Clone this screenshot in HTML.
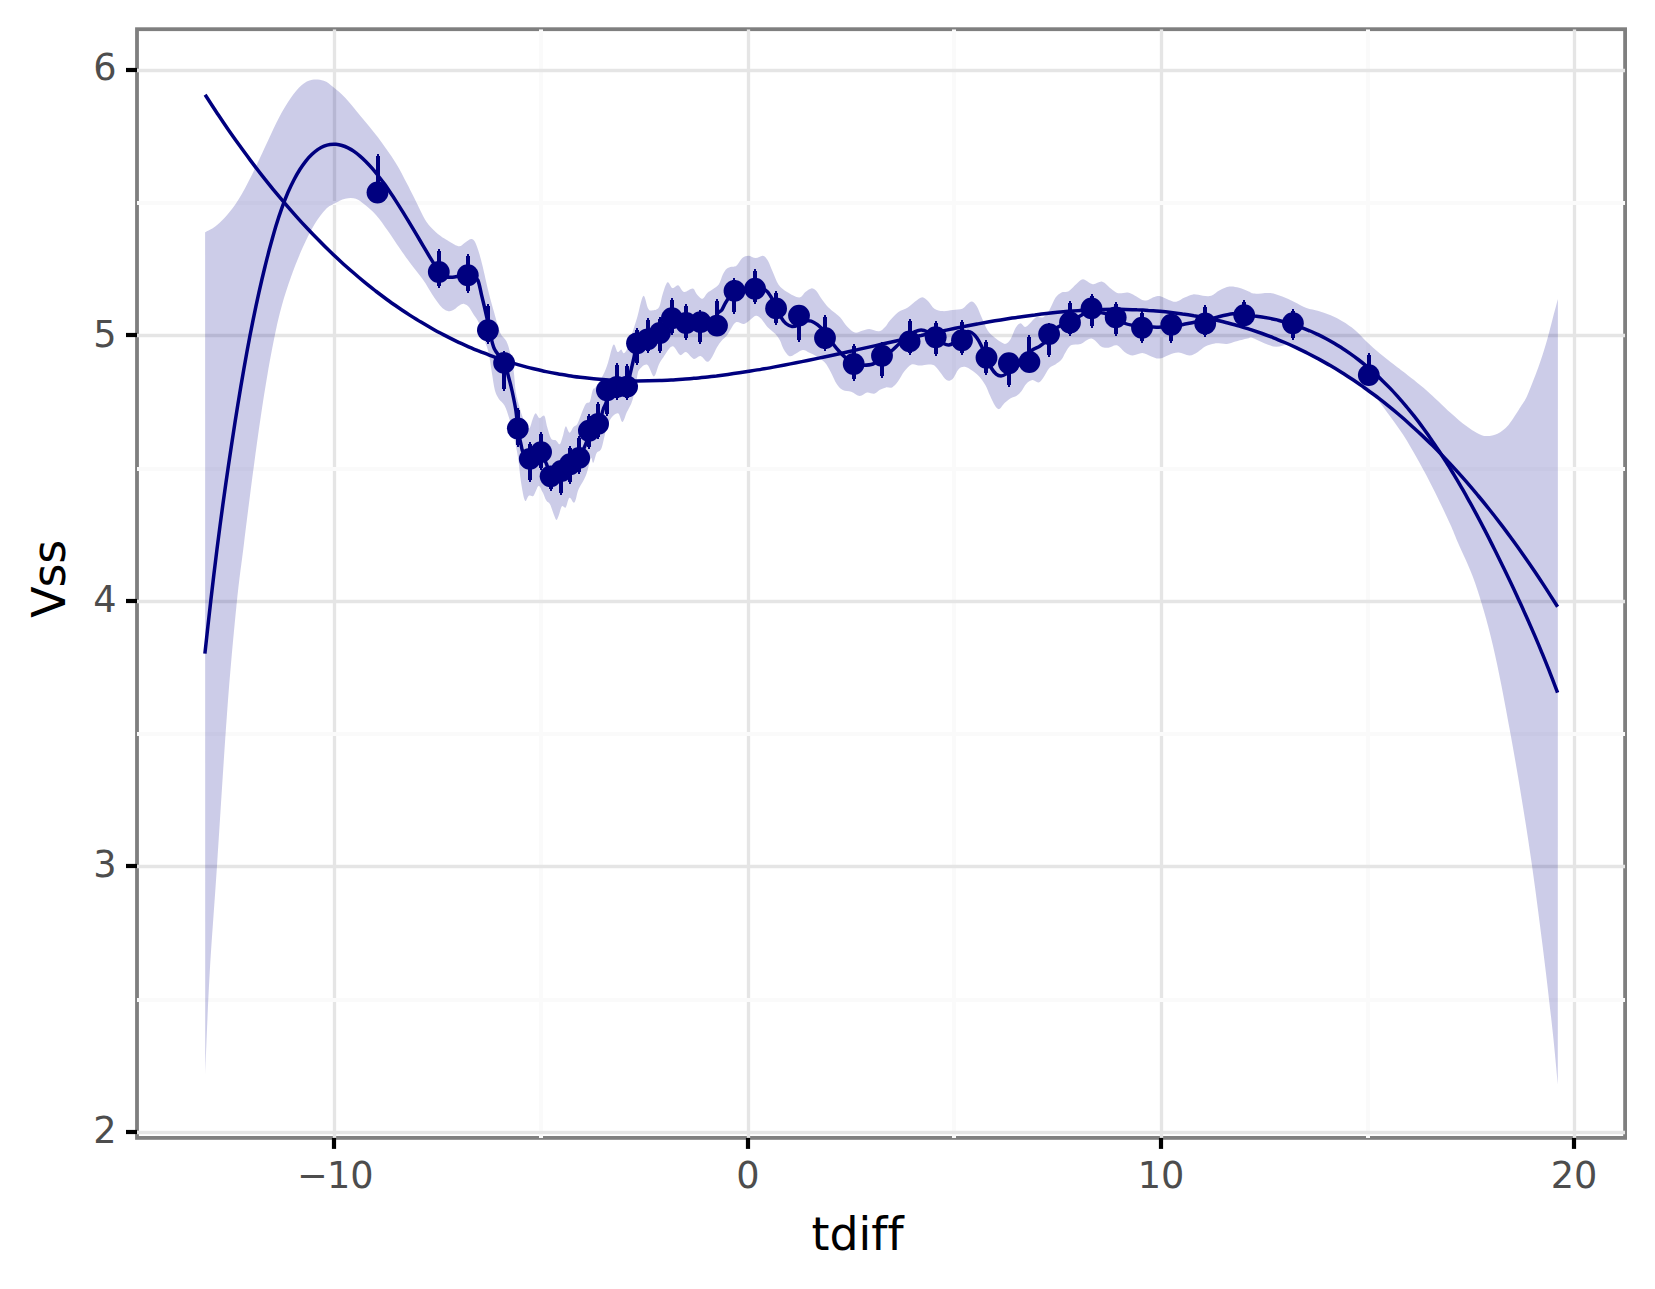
<!DOCTYPE html>
<html><head><meta charset="utf-8"><title>plot</title>
<style>
html,body{margin:0;padding:0;background:#fff;}
body{width:1655px;height:1289px;overflow:hidden;}
svg{display:block;}
text{font-family:"DejaVu Sans","Liberation Sans",sans-serif;font-variant-ligatures:none;font-feature-settings:"liga" 0,"clig" 0;}
.tk{font-size:36.67px;fill:#4d4d4d;}
.ti{font-size:45.83px;fill:#000;}
</style></head><body>
<svg width="1655" height="1289" viewBox="0 0 1655 1289">
<rect x="0" y="0" width="1655" height="1289" fill="#fff"/>
<defs><clipPath id="cp"><rect x="137.0" y="29.2" width="1488.1" height="1108.7"/></clipPath></defs>
<rect x="137.0" y="29.2" width="1488.1" height="1108.7" fill="none" stroke="#7f7f7f" stroke-width="3.8"/>
<g clip-path="url(#cp)">
<line x1="334.5" x2="334.5" y1="29.2" y2="1137.9" stroke="#e5e5e5" stroke-width="3.3"/>
<line x1="748.5" x2="748.5" y1="29.2" y2="1137.9" stroke="#e5e5e5" stroke-width="3.3"/>
<line x1="1161.5" x2="1161.5" y1="29.2" y2="1137.9" stroke="#e5e5e5" stroke-width="3.3"/>
<line x1="1574.5" x2="1574.5" y1="29.2" y2="1137.9" stroke="#e5e5e5" stroke-width="3.3"/>
<line x1="541" x2="541" y1="29.2" y2="1137.9" stroke="#fafafa" stroke-width="4"/>
<line x1="954" x2="954" y1="29.2" y2="1137.9" stroke="#fafafa" stroke-width="4"/>
<line x1="1368" x2="1368" y1="29.2" y2="1137.9" stroke="#fafafa" stroke-width="4"/>
<line y1="70.5" y2="70.5" x1="137.0" x2="1625.1" stroke="#e5e5e5" stroke-width="3.3"/>
<line y1="335.5" y2="335.5" x1="137.0" x2="1625.1" stroke="#e5e5e5" stroke-width="3.3"/>
<line y1="601.5" y2="601.5" x1="137.0" x2="1625.1" stroke="#e5e5e5" stroke-width="3.3"/>
<line y1="866.5" y2="866.5" x1="137.0" x2="1625.1" stroke="#e5e5e5" stroke-width="3.3"/>
<line y1="1132.5" y2="1132.5" x1="137.0" x2="1625.1" stroke="#e5e5e5" stroke-width="3.3"/>
<line y1="203" y2="203" x1="137.0" x2="1625.1" stroke="#fafafa" stroke-width="4"/>
<line y1="469" y2="469" x1="137.0" x2="1625.1" stroke="#fafafa" stroke-width="4"/>
<line y1="734" y2="734" x1="137.0" x2="1625.1" stroke="#fafafa" stroke-width="4"/>
<line y1="1000" y2="1000" x1="137.0" x2="1625.1" stroke="#fafafa" stroke-width="4"/>
<path d="M205.1,232.2C206.8,231.2 211.6,229.2 215.2,226.4C218.8,223.6 223.0,219.7 226.9,215.2C230.8,210.7 234.3,206.4 238.5,199.6C242.7,192.8 247.2,184.1 252.1,174.4C256.9,164.7 263.1,151.0 267.6,141.5C272.1,132.0 275.3,124.5 279.2,117.2C283.1,109.9 287.2,103.1 290.9,97.8C294.6,92.5 297.9,88.2 301.5,85.2C305.1,82.2 308.5,80.5 312.2,79.8C315.9,79.1 320.2,79.6 323.8,80.8C327.4,82.0 329.9,84.4 333.5,87.2C337.1,90.0 340.7,93.0 345.2,97.8C349.7,102.6 355.2,109.6 360.7,116.2C366.2,122.8 372.3,129.8 378.1,137.6C383.9,145.4 390.8,155.1 395.6,162.8C400.5,170.6 403.3,176.7 407.2,184.1C411.1,191.5 415.7,201.1 418.9,207.4C422.1,213.7 424.0,218.0 426.6,221.9C429.2,225.8 432.2,228.4 434.4,230.7C436.6,233.0 438.1,234.0 440.0,235.5C441.9,237.0 442.9,237.7 446.0,239.5C449.1,241.3 455.4,245.6 458.4,246.2C461.4,246.8 462.1,244.5 464.2,243.3C466.3,242.1 469.2,239.3 471.0,239.1C472.8,238.8 473.6,239.7 474.9,241.8C476.2,244.0 477.5,247.9 478.8,252.0C480.1,256.1 481.1,260.0 482.7,266.6C484.3,273.2 486.6,284.1 488.5,291.8C490.4,299.6 492.4,306.3 494.3,313.1C496.2,319.9 498.1,327.8 500.1,332.5C502.1,337.2 504.7,337.9 506.3,341.1C507.9,344.4 508.7,347.1 509.9,352.0C511.1,356.9 512.6,363.5 513.6,370.2C514.6,376.9 514.8,385.9 515.8,392.0C516.8,398.1 518.3,402.7 519.5,407.0C520.7,411.3 521.5,414.4 523.0,418.0C524.5,421.6 527.2,428.6 528.8,428.8C530.4,429.0 531.6,421.7 532.7,419.1C533.8,416.5 534.5,413.5 535.6,413.3C536.7,413.1 538.0,417.7 539.5,418.1C541.0,418.5 543.0,414.2 544.3,415.7C545.6,417.2 546.1,423.1 547.2,426.9C548.3,430.7 549.6,436.2 551.1,438.5C552.6,440.8 554.5,439.4 556.0,440.4C557.5,441.4 558.7,444.9 559.8,444.3C560.9,443.7 561.7,439.6 562.7,436.6C563.7,433.6 564.6,427.0 565.7,426.4C566.8,425.8 568.2,432.6 569.5,432.7C570.8,432.8 572.1,428.4 573.4,426.9C574.7,425.4 576.0,426.0 577.3,423.9C578.6,421.8 579.8,417.6 581.2,414.2C582.7,410.8 584.5,405.7 586.0,403.6C587.5,401.5 588.8,403.9 589.9,401.6C591.0,399.3 591.8,392.4 592.8,390.0C593.8,387.6 594.1,389.6 595.8,387.1C597.5,384.6 601.1,379.0 603.1,375.0C605.1,371.0 606.2,367.9 607.9,362.9C609.6,357.9 611.8,346.6 613.4,344.8C615.0,343.0 616.3,351.2 617.6,352.0C618.9,352.8 620.2,349.4 621.2,349.6C622.2,349.8 622.7,353.4 623.7,353.2C624.7,353.0 625.8,351.8 627.3,348.4C628.8,344.9 630.7,337.7 632.4,332.5C634.1,327.3 635.5,323.1 637.3,317.0C639.1,310.9 641.5,297.3 643.3,295.9C645.1,294.5 646.6,306.1 648.1,308.5C649.6,310.9 650.2,310.6 652.0,310.4C653.8,310.2 657.0,310.2 658.8,307.5C660.6,304.8 661.2,298.1 662.7,293.9C664.2,289.7 665.9,283.3 667.5,282.3C669.1,281.3 670.6,287.6 672.4,288.1C674.2,288.6 676.3,284.6 678.2,285.2C680.1,285.8 681.6,291.4 684.0,292.0C686.4,292.6 690.6,288.3 692.7,288.6C694.8,288.9 695.0,292.2 696.6,293.9C698.2,295.6 700.6,298.9 702.4,298.8C704.2,298.7 705.5,294.6 707.3,293.0C709.1,291.4 711.2,290.6 713.1,289.1C715.0,287.6 717.3,286.6 718.9,284.2C720.5,281.8 721.5,277.1 722.8,274.5C724.1,271.9 725.2,270.0 726.7,268.7C728.2,267.4 729.9,267.3 731.5,266.8C733.1,266.3 734.6,267.2 736.4,265.8C738.2,264.4 740.3,259.8 742.3,258.1C744.3,256.4 746.2,255.7 748.4,255.7C750.6,255.7 753.3,258.1 755.7,258.1C758.1,258.1 760.9,255.3 762.9,255.7C764.9,256.1 766.2,258.0 767.8,260.6C769.4,263.2 770.8,267.5 772.6,271.5C774.4,275.5 776.2,281.4 778.6,284.8C781.0,288.2 783.7,289.9 787.1,292.0C790.5,294.1 796.2,297.5 799.2,297.5C802.2,297.5 803.3,293.5 805.3,292.0C807.3,290.5 809.5,288.6 811.3,288.4C813.1,288.2 814.6,289.2 816.2,290.8C817.8,292.4 819.2,295.6 821.0,298.1C822.8,300.6 825.0,303.7 827.0,305.9C829.0,308.1 830.9,309.5 833.1,311.4C835.3,313.3 837.9,314.8 840.3,317.4C842.7,320.0 845.2,324.6 847.6,327.1C850.0,329.6 852.5,332.0 854.9,332.6C857.3,333.2 859.7,331.3 862.1,330.7C864.5,330.1 866.6,328.8 869.4,328.9C872.2,329.0 876.5,331.6 879.1,331.3C881.7,331.0 883.3,328.9 885.1,327.1C886.9,325.4 887.5,323.3 889.7,320.8C891.9,318.3 895.1,314.5 898.1,312.3C901.1,310.1 905.0,309.3 907.8,307.5C910.6,305.7 912.7,303.2 915.1,301.5C917.5,299.8 920.1,297.2 922.3,297.2C924.5,297.2 926.4,299.6 928.4,301.5C930.4,303.4 932.0,307.1 934.4,308.7C936.8,310.3 939.9,310.9 942.9,311.1C945.9,311.3 949.4,310.3 952.6,309.9C955.8,309.5 959.9,309.6 962.3,308.7C964.7,307.8 965.5,305.7 967.1,304.5C968.7,303.3 970.4,301.2 972.0,301.5C973.6,301.8 975.2,303.7 976.8,306.3C978.4,308.9 979.8,313.2 981.6,317.2C983.4,321.2 985.5,327.1 987.7,330.5C989.9,333.9 992.7,335.9 994.9,337.8C997.1,339.7 999.2,341.0 1001.0,342.0C1002.8,343.0 1004.2,344.3 1005.8,343.8C1007.4,343.3 1009.1,341.6 1010.7,339.0C1012.3,336.4 1013.9,330.7 1015.5,328.1C1017.1,325.5 1018.7,323.4 1020.3,323.2C1021.9,323.0 1023.6,326.9 1025.2,326.9C1026.8,326.9 1028.2,324.8 1030.0,323.2C1031.8,321.6 1033.9,318.2 1036.1,317.2C1038.3,316.2 1041.1,318.4 1043.3,317.2C1045.5,316.0 1047.4,313.1 1049.4,309.9C1051.4,306.7 1053.4,300.7 1055.4,297.8C1057.4,294.9 1059.3,293.5 1061.5,292.4C1063.7,291.3 1066.1,292.7 1068.7,291.2C1071.3,289.7 1074.5,285.6 1076.9,283.6C1079.3,281.6 1080.4,279.2 1083.0,279.3C1085.6,279.4 1089.5,283.8 1092.7,284.2C1095.9,284.6 1099.3,281.0 1102.3,281.7C1105.3,282.4 1108.2,286.5 1110.8,288.4C1113.4,290.3 1115.3,292.5 1118.1,293.2C1120.9,293.9 1125.0,292.2 1127.8,292.6C1130.6,293.0 1132.2,294.4 1135.0,295.7C1137.8,297.0 1141.5,300.3 1144.7,300.5C1147.9,300.7 1151.8,297.6 1154.4,296.9C1157.0,296.2 1158.0,295.8 1160.4,296.3C1162.8,296.8 1166.3,299.0 1168.9,299.9C1171.5,300.8 1173.6,302.1 1176.2,301.7C1178.8,301.3 1181.8,298.7 1184.6,297.5C1187.4,296.3 1190.1,294.7 1193.1,294.4C1196.1,294.1 1199.8,295.5 1202.8,295.7C1205.8,295.9 1208.4,296.6 1211.2,295.7C1214.0,294.8 1216.7,291.7 1219.7,290.2C1222.7,288.7 1226.2,287.0 1229.4,286.6C1232.6,286.2 1235.9,287.0 1239.1,287.8C1242.3,288.6 1246.1,290.4 1248.7,291.4C1251.3,292.4 1250.9,293.3 1254.5,293.6C1258.1,293.9 1265.6,292.5 1270.2,293.0C1274.8,293.5 1278.3,295.1 1282.3,296.6C1286.3,298.1 1290.4,300.1 1294.4,302.0C1298.4,303.9 1302.5,306.6 1306.5,308.1C1310.5,309.6 1314.6,309.9 1318.6,311.1C1322.6,312.3 1326.7,313.6 1330.7,315.3C1334.7,317.0 1338.8,319.0 1342.8,321.4C1346.8,323.8 1350.9,326.5 1354.9,329.9C1358.9,333.3 1362.9,338.1 1367.0,342.0C1371.1,345.9 1375.3,349.7 1379.3,353.1C1383.3,356.5 1387.2,359.4 1391.2,362.5C1395.2,365.6 1397.1,366.9 1403.0,371.5C1408.9,376.1 1418.7,383.6 1426.6,390.4C1434.5,397.2 1443.6,406.5 1450.2,412.4C1456.8,418.3 1461.5,422.4 1466.0,425.8C1470.5,429.2 1473.6,431.2 1477.0,432.9C1480.4,434.6 1483.1,436.0 1486.5,436.1C1489.9,436.2 1493.8,435.6 1497.5,433.7C1501.2,431.8 1504.6,429.6 1508.5,425.0C1512.4,420.4 1517.9,411.1 1521.1,406.1C1524.3,401.1 1525.0,400.6 1527.5,395.0C1530.0,389.4 1533.7,379.7 1536.3,372.8C1538.9,365.9 1541.1,359.4 1543.0,353.4C1544.9,347.4 1546.3,342.7 1547.9,336.9C1549.5,331.1 1551.0,324.8 1552.7,318.5C1554.4,312.2 1557.0,302.2 1557.9,298.9L1557.8,1084.4C1556.9,1075.2 1555.1,1053.9 1552.4,1029.2C1549.7,1004.5 1545.5,968.1 1541.4,936.4C1537.4,904.7 1533.3,873.1 1528.1,839.2C1522.9,805.3 1516.3,765.6 1510.4,733.2C1504.5,700.8 1498.7,669.9 1492.8,644.9C1486.9,619.9 1480.9,600.0 1475.1,583.0C1469.3,566.0 1462.2,552.8 1458.1,543.0C1453.9,533.2 1454.1,532.9 1450.2,524.3C1446.3,515.7 1439.8,501.7 1434.5,491.2C1429.2,480.7 1424.0,470.8 1418.7,461.3C1413.5,451.9 1408.2,442.6 1403.0,434.5C1397.8,426.4 1392.0,418.9 1387.2,412.4C1382.4,405.9 1377.8,399.2 1374.0,395.2C1370.2,391.2 1367.6,390.5 1364.4,388.2C1361.3,385.9 1358.1,383.7 1354.9,381.6C1351.7,379.4 1348.5,377.3 1345.3,375.3C1342.1,373.2 1339.0,371.3 1335.8,369.3C1332.6,367.4 1329.4,365.5 1326.2,363.7C1323.0,361.9 1319.9,360.1 1316.7,358.4C1313.5,356.7 1310.3,355.0 1307.1,353.4C1303.9,351.8 1300.7,350.3 1297.6,348.8C1294.4,347.3 1291.5,344.7 1288.0,344.4C1284.5,344.1 1280.3,347.0 1276.3,346.8C1272.3,346.6 1268.2,344.7 1264.2,343.2C1260.2,341.7 1254.9,338.5 1252.1,337.7C1249.3,336.9 1250.3,338.0 1247.5,338.6C1244.7,339.2 1238.8,340.7 1235.4,341.6C1232.0,342.5 1230.4,343.7 1227.0,344.0C1223.6,344.3 1218.5,343.0 1214.9,343.4C1211.3,343.8 1208.0,345.1 1205.2,346.5C1202.4,347.9 1200.5,350.4 1197.9,351.9C1195.3,353.4 1192.7,355.4 1189.5,355.5C1186.3,355.6 1182.0,352.6 1178.6,352.5C1175.2,352.4 1172.1,353.9 1168.9,354.9C1165.7,355.9 1162.2,358.4 1159.2,358.6C1156.2,358.8 1153.5,357.1 1150.7,356.2C1147.9,355.3 1145.3,353.2 1142.3,353.1C1139.3,353.0 1135.4,355.6 1132.6,355.5C1129.8,355.4 1127.9,354.2 1125.3,352.5C1122.7,350.8 1119.7,346.1 1116.9,345.3C1114.1,344.5 1111.0,347.5 1108.4,347.7C1105.8,347.9 1103.9,348.0 1101.1,346.5C1098.3,345.0 1094.9,339.0 1091.5,338.6C1088.1,338.2 1084.0,342.9 1080.6,344.0C1077.2,345.1 1073.4,343.9 1070.9,345.3C1068.4,346.7 1067.1,350.1 1065.5,352.5C1063.9,354.9 1063.2,357.5 1061.5,359.5C1059.8,361.5 1057.4,363.0 1055.4,364.4C1053.4,365.8 1051.4,365.8 1049.4,368.0C1047.4,370.2 1045.1,375.3 1043.3,377.7C1041.5,380.1 1040.3,382.1 1038.5,382.5C1036.7,382.9 1034.5,379.9 1032.5,380.1C1030.5,380.3 1028.2,381.9 1026.4,383.7C1024.6,385.5 1023.2,389.0 1021.6,391.0C1020.0,393.0 1018.5,394.6 1016.7,395.8C1014.9,397.0 1012.7,397.1 1010.7,398.3C1008.7,399.5 1006.5,401.3 1004.6,403.1C1002.7,404.9 1000.8,408.7 999.2,409.1C997.6,409.5 996.4,407.7 994.9,405.5C993.4,403.3 991.7,399.2 990.1,395.8C988.5,392.4 987.1,388.1 985.3,384.9C983.5,381.7 981.4,378.9 979.2,376.5C977.0,374.1 974.4,372.0 972.0,370.4C969.6,368.8 966.9,367.0 964.7,366.8C962.5,366.6 960.6,367.2 958.6,369.2C956.6,371.2 954.6,377.1 952.6,378.9C950.6,380.7 948.5,381.1 946.5,380.1C944.5,379.1 942.5,375.2 940.5,372.8C938.5,370.4 936.4,367.0 934.4,365.6C932.4,364.2 930.8,364.4 928.4,364.4C926.0,364.4 922.7,365.6 919.9,365.6C917.1,365.6 914.1,363.4 911.5,364.4C908.9,365.4 906.4,368.8 904.2,371.6C902.0,374.4 900.1,378.7 898.1,381.3C896.1,383.9 894.1,386.4 892.1,387.4C890.1,388.4 888.0,387.0 886.0,387.4C884.0,387.8 882.0,388.8 880.0,389.8C878.0,390.9 876.4,393.2 874.2,393.7C872.0,394.1 869.4,392.1 867.0,392.5C864.6,392.9 862.3,396.1 859.7,396.0C857.1,395.9 854.0,392.8 851.2,391.8C848.4,390.8 845.2,391.3 842.8,390.0C840.4,388.7 838.7,387.0 836.7,384.0C834.7,381.0 832.7,375.5 830.7,371.9C828.7,368.3 827.0,364.8 824.6,362.2C822.2,359.6 818.8,357.8 816.2,356.2C813.6,354.6 811.1,353.5 808.9,352.5C806.7,351.5 805.0,349.9 802.8,350.1C800.6,350.3 797.8,352.7 795.6,353.7C793.4,354.7 791.5,357.0 789.5,356.2C787.5,355.4 785.1,351.5 783.5,348.9C781.9,346.3 781.4,343.0 780.0,340.5C778.6,338.0 777.3,336.0 775.2,333.7C773.1,331.4 769.8,329.5 767.4,326.9C765.0,324.3 762.5,320.0 760.6,318.2C758.7,316.4 757.6,315.5 755.8,315.8C754.0,316.1 752.0,318.7 750.0,320.1C748.0,321.5 746.4,323.7 744.1,324.0C741.8,324.3 738.5,321.5 736.4,322.1C734.3,322.8 733.1,325.6 731.5,327.9C729.9,330.2 728.3,333.6 726.7,335.7C725.1,337.8 723.4,338.6 721.8,340.5C720.2,342.4 718.6,344.6 717.0,347.3C715.4,350.1 713.7,354.6 712.1,357.0C710.5,359.4 709.2,362.0 707.3,361.8C705.4,361.6 702.8,356.5 700.5,356.0C698.2,355.5 696.1,359.5 693.7,358.9C691.3,358.2 688.3,352.8 686.0,352.1C683.7,351.5 682.4,356.0 680.1,355.0C677.8,354.0 675.1,346.0 672.4,346.3C669.6,346.6 665.9,353.9 663.6,357.0C661.3,360.1 660.4,361.5 658.8,364.7C657.2,367.9 655.8,376.4 653.9,376.4C652.0,376.4 649.6,365.8 647.2,364.7C644.8,363.6 641.1,367.5 639.4,369.6C637.7,371.7 638.1,372.4 637.0,377.4C635.9,382.4 634.3,393.9 632.6,399.7C630.9,405.5 628.5,408.6 626.8,412.3C625.1,416.0 623.9,421.8 622.4,422.0C620.9,422.2 619.9,413.9 618.0,413.3C616.1,412.7 613.1,415.5 611.2,418.1C609.3,420.7 608.0,423.8 606.4,428.8C604.8,433.8 603.1,444.2 601.5,448.2C599.9,452.2 598.1,450.6 596.7,453.0C595.3,455.4 594.3,461.9 593.3,462.7C592.3,463.5 591.9,456.3 590.9,457.9C589.9,459.5 588.3,468.5 587.0,472.4C585.7,476.3 584.6,478.3 583.1,481.2C581.6,484.1 579.8,486.3 578.3,489.9C576.8,493.4 575.9,501.2 574.4,502.5C572.9,503.8 571.0,496.9 569.5,497.7C568.0,498.5 567.0,505.9 565.7,507.4C564.4,508.8 562.9,505.1 561.8,506.4C560.7,507.7 559.8,512.7 558.9,515.0C558.0,517.3 557.3,520.0 556.5,520.0C555.7,520.0 555.1,517.6 554.0,515.0C552.9,512.4 551.4,506.9 550.1,504.5C548.8,502.1 547.6,502.7 546.3,500.6C545.0,498.5 543.7,494.2 542.4,491.8C541.1,489.4 540.0,485.4 538.5,486.0C537.0,486.6 535.2,494.1 533.6,495.7C532.0,497.3 530.2,494.9 528.8,495.7C527.3,496.5 526.2,502.9 524.9,500.6C523.6,498.3 522.1,489.2 521.0,482.1C519.9,475.0 519.2,465.2 518.1,457.9C517.0,450.6 515.7,445.0 514.2,438.5C512.8,432.0 511.0,424.6 509.4,419.1C507.8,413.6 506.3,408.9 504.5,405.5C502.7,402.1 500.3,401.3 498.7,398.7C497.1,396.1 495.9,394.4 494.8,390.0C493.7,385.6 492.9,379.1 491.8,372.6C490.7,366.1 489.7,357.1 488.1,350.8C486.5,344.6 483.7,339.8 482.1,335.1C480.6,330.4 480.2,326.1 478.8,322.8C477.4,319.5 475.5,317.7 473.9,315.1C472.3,312.5 470.7,309.2 469.1,307.3C467.5,305.4 465.8,304.2 464.2,303.9C462.6,303.6 461.0,304.5 459.4,305.4C457.8,306.3 456.1,308.2 454.5,309.2C452.9,310.2 451.3,311.1 449.7,311.2C448.1,311.3 446.4,310.7 444.8,309.7C443.2,308.7 442.1,307.9 440.0,305.4C437.9,302.9 435.3,299.1 432.4,294.7C429.5,290.3 426.6,284.7 422.7,279.2C418.8,273.7 413.1,266.9 409.2,261.7C405.3,256.5 403.1,253.3 399.5,248.1C395.9,242.9 391.7,236.2 387.8,230.7C383.9,225.2 380.1,219.6 376.2,215.2C372.3,210.8 368.0,207.2 364.6,204.5C361.2,201.8 359.0,199.7 355.8,198.7C352.6,197.7 348.8,197.9 345.2,198.7C341.6,199.5 337.7,201.7 334.5,203.5C331.3,205.3 329.2,205.7 325.8,209.3C322.4,212.9 318.0,218.4 314.1,224.9C310.2,231.4 306.4,239.4 302.5,248.1C298.6,256.8 294.3,267.7 290.9,277.2C287.5,286.7 284.6,295.7 282.0,305.0C279.4,314.3 277.7,321.6 275.3,333.0C272.9,344.4 270.0,359.8 267.6,373.7C265.2,387.6 263.1,401.2 260.8,416.4C258.5,431.6 256.1,449.4 254.0,464.9C251.9,480.4 249.9,496.1 248.2,509.5C246.5,522.9 245.8,529.0 243.8,545.0C241.9,561.0 239.3,577.1 236.5,605.2C233.7,633.4 230.2,670.4 227.0,713.9C223.8,757.4 219.9,822.5 217.0,866.0C214.1,909.5 211.6,940.0 209.6,974.8C207.6,1009.6 205.9,1058.1 205.2,1074.8Z" fill="#00008b" fill-opacity="0.2" stroke="none"/>
<path d="M204.9,653.6C205.4,649.0 206.9,635.3 207.9,626.3C208.9,617.3 209.9,608.5 210.9,599.8C211.9,591.1 212.9,582.6 213.9,574.3C214.9,566.0 215.9,557.8 216.9,549.9C217.9,542.0 218.9,534.2 219.9,526.6C220.9,519.0 221.9,511.6 222.9,504.3C223.9,497.0 224.9,490.0 225.9,483.0C226.9,476.0 227.9,469.2 228.9,462.4C229.9,455.6 230.9,449.0 231.9,442.4C232.9,435.8 233.9,429.4 234.9,423.0C235.9,416.6 236.9,410.4 237.9,404.3C238.9,398.2 239.9,392.0 240.9,386.1C241.9,380.2 242.9,374.4 243.9,368.7C244.9,363.0 245.9,357.4 246.9,352.0C247.9,346.6 248.9,341.2 249.9,336.0C250.9,330.8 251.9,325.8 252.9,320.8C253.9,315.9 254.9,311.0 255.9,306.3C256.9,301.6 257.9,297.1 258.9,292.6C259.9,288.1 260.9,283.8 261.9,279.5C262.9,275.2 263.9,271.1 264.9,267.0C265.9,262.9 267.0,258.4 267.9,255.1C268.8,251.8 268.6,251.9 270.0,247.0C271.4,242.1 274.0,232.4 276.0,225.8C278.0,219.2 280.0,213.2 282.0,207.6C284.0,202.0 286.0,197.0 288.0,192.3C290.0,187.7 292.0,183.5 294.0,179.7C296.0,175.9 298.0,172.5 300.0,169.3C302.0,166.2 304.0,163.3 306.0,160.8C308.0,158.3 310.0,156.2 312.0,154.3C314.0,152.4 316.0,150.8 318.0,149.4C320.0,148.1 322.0,147.0 324.0,146.2C326.0,145.4 328.0,144.8 330.0,144.5C332.0,144.2 334.0,144.1 336.0,144.3C338.0,144.5 340.0,144.9 342.0,145.5C344.0,146.1 346.0,146.9 348.0,147.9C350.0,148.9 352.0,150.0 354.0,151.4C356.0,152.8 358.0,154.4 360.0,156.1C362.0,157.8 364.0,159.7 366.0,161.7C368.0,163.7 370.0,165.9 372.0,168.2C374.0,170.5 376.0,173.0 378.0,175.5C380.0,178.0 382.0,180.7 384.0,183.4C386.0,186.2 388.0,189.1 390.0,192.0C392.0,194.9 394.0,198.0 396.0,201.1C398.0,204.2 400.0,207.4 402.0,210.6C404.0,213.8 406.0,217.1 408.0,220.4C410.0,223.7 412.0,227.1 414.0,230.4C416.0,233.8 418.0,237.1 420.0,240.5C422.0,243.9 424.0,247.3 426.0,250.7C428.0,254.1 430.0,257.4 432.0,260.7C434.0,264.0 436.9,268.8 438.0,270.7C439.1,272.6 437.6,271.0 438.8,272.0C440.0,273.0 442.7,275.6 445.0,276.5C447.3,277.4 450.1,277.3 452.6,277.2C455.1,277.1 457.5,276.3 460.0,276.0C462.5,275.7 465.8,275.1 467.8,275.2C469.8,275.3 470.3,275.7 472.0,276.5C473.7,277.3 476.2,276.9 477.8,280.1C479.4,283.3 480.4,290.4 481.7,295.7C483.0,301.0 484.6,307.6 485.6,312.1C486.7,316.7 487.3,319.7 488.0,323.0C488.7,326.3 489.0,327.8 490.0,332.0C491.0,336.2 491.8,343.2 494.2,348.4C496.6,353.5 501.7,358.1 504.1,362.9C506.5,367.7 507.3,372.5 508.7,377.4C510.1,382.2 511.1,386.4 512.3,392.0C513.5,397.6 515.1,405.2 516.0,411.3C516.9,417.4 517.0,423.0 517.8,428.5C518.6,434.0 520.1,440.4 521.0,444.3C521.9,448.2 521.5,449.6 523.0,452.0C524.5,454.4 527.7,458.5 529.8,458.9C531.9,459.3 533.6,455.4 535.5,454.5C537.4,453.6 539.3,451.9 541.1,453.5C542.9,455.1 544.9,460.2 546.5,464.0C548.1,467.8 549.0,474.6 550.6,476.3C552.2,478.1 554.2,475.4 556.0,474.5C557.8,473.6 559.0,472.7 561.3,471.0C563.6,469.3 567.0,466.4 570.0,464.2C573.0,462.0 577.0,460.2 579.2,457.9C581.4,455.5 581.8,453.0 583.1,450.1C584.4,447.2 586.0,443.6 587.0,440.4C588.0,437.2 587.0,433.4 588.9,430.7C590.8,427.9 596.0,426.5 598.1,423.9C600.2,421.3 600.6,417.8 601.5,415.2C602.4,412.6 602.7,410.8 603.5,408.5C604.3,406.2 605.8,404.7 606.4,401.6C607.0,398.6 605.1,392.6 606.9,390.2C608.7,387.8 613.6,387.5 617.0,386.9C620.4,386.3 624.9,388.7 627.1,386.6C629.3,384.5 628.9,379.4 630.0,374.5C631.1,369.6 632.8,362.7 634.0,357.5C635.2,352.3 634.7,346.3 637.0,343.3C639.3,340.3 643.8,341.0 647.6,339.3C651.4,337.6 656.8,335.4 659.9,333.0C663.0,330.6 664.0,327.5 666.0,325.0C668.0,322.5 669.7,319.0 671.9,318.2C674.1,317.4 676.6,319.2 679.0,320.0C681.4,320.8 682.4,322.6 686.0,323.0C689.6,323.4 696.5,322.0 700.5,322.1C704.5,322.2 707.8,323.6 710.0,323.5C712.2,323.4 712.7,323.2 714.0,321.5C715.3,319.8 716.7,314.9 718.0,313.0C719.3,311.1 720.5,311.7 721.8,310.0C723.0,308.3 724.1,305.2 725.5,302.8C726.9,300.4 728.7,297.7 730.2,295.7C731.7,293.7 732.0,292.2 734.5,291.0C737.0,289.8 741.6,288.9 745.0,288.5C748.4,288.1 751.6,288.4 755.0,288.7C758.4,288.9 762.7,288.5 765.4,290.0C768.1,291.5 769.6,294.8 771.4,297.5C773.2,300.2 774.5,302.7 776.1,306.0C777.7,309.3 779.5,314.5 781.1,317.4C782.7,320.3 784.1,322.0 785.9,323.5C787.7,325.0 789.8,326.3 792.0,326.5C794.2,326.7 796.8,325.6 799.0,324.7C801.2,323.8 803.2,321.7 805.3,321.1C807.3,320.5 809.3,320.5 811.3,321.1C813.3,321.7 815.1,322.9 817.4,324.7C819.7,326.5 822.4,328.8 825.0,332.0C827.6,335.2 830.8,340.8 833.1,344.0C835.5,347.2 837.1,349.1 839.1,351.3C841.1,353.5 842.8,355.3 845.2,357.4C847.6,359.5 850.7,362.7 853.7,364.0C856.7,365.3 860.1,365.2 863.3,365.2C866.5,365.2 869.9,365.2 873.0,364.0C876.1,362.8 878.9,360.2 882.0,358.0C885.1,355.8 888.5,353.4 891.5,351.0C894.5,348.6 896.7,346.0 899.7,343.3C902.7,340.6 907.0,336.9 909.6,335.0C912.2,333.1 913.2,332.6 915.1,331.7C917.0,330.8 919.1,329.9 921.1,329.9C923.1,329.9 924.8,330.3 927.2,331.7C929.6,333.1 932.9,336.0 935.7,338.0C938.5,340.0 941.9,342.6 944.1,343.8C946.3,345.0 947.4,345.2 949.0,345.0C950.6,344.8 952.3,343.9 953.8,342.6C955.3,341.3 956.5,338.6 958.0,337.0C959.5,335.4 961.3,333.9 963.0,333.0C964.7,332.1 966.5,331.5 968.0,331.5C969.5,331.5 970.5,331.8 972.0,332.9C973.5,333.9 975.2,335.6 976.8,337.8C978.4,340.0 980.0,342.9 981.6,346.2C983.2,349.5 984.9,354.1 986.5,357.7C988.1,361.3 989.7,365.3 991.3,368.0C992.9,370.7 994.6,372.8 996.2,374.1C997.8,375.4 999.4,375.9 1001.0,375.9C1002.6,375.9 1004.3,375.1 1005.8,374.1C1007.3,373.1 1007.6,371.7 1010.0,370.0C1012.4,368.3 1016.8,366.5 1020.0,364.0C1023.2,361.5 1027.3,357.4 1029.4,355.0C1031.5,352.6 1030.8,351.4 1032.5,349.9C1034.2,348.4 1037.5,347.6 1039.7,346.2C1041.9,344.8 1044.2,343.1 1045.8,341.4C1047.4,339.7 1047.6,338.1 1049.1,336.0C1050.6,333.9 1052.8,330.8 1055.0,329.0C1057.2,327.2 1059.5,326.2 1062.0,325.0C1064.5,323.8 1067.0,323.5 1070.0,322.0C1073.0,320.5 1076.4,318.0 1080.0,316.0C1083.6,314.0 1088.0,310.6 1091.5,310.0C1095.0,309.4 1098.7,312.0 1101.1,312.6C1103.5,313.2 1103.6,312.9 1106.0,313.8C1108.4,314.7 1112.5,316.4 1115.7,318.0C1118.9,319.6 1122.5,322.3 1125.3,323.5C1128.1,324.7 1129.8,324.7 1132.6,325.3C1135.4,325.9 1138.6,326.7 1142.0,327.0C1145.4,327.3 1149.9,327.1 1153.2,327.1C1156.5,327.1 1158.6,327.3 1161.6,327.1C1164.6,326.9 1167.9,326.4 1171.3,326.0C1174.7,325.6 1178.4,325.3 1182.2,324.7C1186.0,324.1 1190.5,323.0 1194.3,322.3C1198.1,321.6 1201.6,321.3 1205.2,320.5C1208.8,319.7 1211.5,318.5 1216.1,317.4C1220.7,316.3 1228.3,314.3 1233.0,313.8C1237.7,313.3 1240.6,314.1 1244.2,314.5C1247.8,314.9 1250.2,315.2 1254.5,315.9C1258.8,316.5 1266.2,317.7 1270.2,318.4C1274.2,319.1 1275.5,319.5 1278.2,320.2C1280.9,320.9 1283.5,321.6 1286.2,322.4C1288.9,323.2 1291.5,324.0 1294.2,324.9C1296.9,325.8 1299.5,326.8 1302.2,327.8C1304.9,328.8 1307.5,329.9 1310.2,331.0C1312.9,332.1 1315.5,333.4 1318.2,334.7C1320.9,336.0 1323.5,337.3 1326.2,338.7C1328.9,340.1 1331.5,341.6 1334.2,343.2C1336.9,344.8 1339.5,346.5 1342.2,348.2C1344.9,349.9 1347.5,351.7 1350.2,353.6C1352.9,355.5 1355.5,357.4 1358.2,359.5C1360.9,361.6 1363.5,363.7 1366.2,365.9C1368.9,368.1 1371.5,370.5 1374.2,372.9C1376.9,375.3 1379.5,377.8 1382.2,380.4C1384.9,383.0 1387.5,385.6 1390.2,388.4C1392.9,391.2 1395.5,394.1 1398.2,397.1C1400.9,400.1 1403.5,403.1 1406.2,406.3C1408.9,409.5 1411.5,412.8 1414.2,416.2C1416.9,419.6 1419.5,423.1 1422.2,426.7C1424.9,430.3 1427.5,434.1 1430.2,437.9C1432.9,441.7 1435.5,445.7 1438.2,449.7C1440.9,453.7 1443.5,457.9 1446.2,462.1C1448.9,466.3 1451.5,470.7 1454.2,475.1C1456.9,479.5 1459.5,484.1 1462.2,488.7C1464.9,493.3 1467.5,498.1 1470.2,502.9C1472.9,507.7 1475.5,512.6 1478.2,517.6C1480.9,522.6 1483.5,527.7 1486.2,532.9C1488.9,538.1 1491.5,543.4 1494.2,548.7C1496.9,554.1 1499.5,559.5 1502.2,565.0C1504.9,570.5 1507.5,576.0 1510.2,581.6C1512.9,587.2 1515.5,592.9 1518.2,598.7C1520.9,604.5 1523.5,610.2 1526.2,616.2C1528.9,622.2 1531.5,628.2 1534.2,634.4C1536.9,640.6 1539.5,646.9 1542.2,653.4C1544.9,659.9 1547.6,666.8 1550.2,673.3C1552.8,679.8 1556.4,689.5 1557.6,692.7" fill="none" stroke="#00007f" stroke-width="3.5" stroke-linejoin="round"/>
<path d="M205.1,94.7C207.0,97.6 212.7,106.5 216.5,112.2C220.3,117.9 224.0,123.5 227.8,129.0C231.6,134.5 235.4,139.8 239.2,145.1C243.0,150.4 246.8,155.5 250.6,160.6C254.4,165.6 258.1,170.6 261.9,175.4C265.7,180.2 269.5,185.0 273.3,189.6C277.1,194.2 280.9,198.7 284.7,203.2C288.4,207.6 292.2,211.9 296.0,216.1C299.8,220.4 303.6,224.5 307.4,228.5C311.2,232.6 315.0,236.5 318.8,240.3C322.5,244.2 326.3,247.9 330.1,251.5C333.9,255.2 337.7,258.7 341.5,262.2C345.3,265.7 349.1,269.0 352.9,272.3C356.6,275.6 360.4,278.8 364.2,281.9C368.0,285.0 371.8,288.0 375.6,291.0C379.4,293.9 383.2,296.7 386.9,299.5C390.7,302.3 394.5,304.9 398.3,307.5C402.1,310.1 405.9,312.6 409.7,315.1C413.5,317.5 417.3,319.9 421.0,322.1C424.8,324.4 428.6,326.6 432.4,328.7C436.2,330.9 440.0,332.9 443.8,334.9C447.6,336.9 451.4,338.8 455.1,340.6C458.9,342.4 462.7,344.2 466.5,345.8C470.3,347.5 474.1,349.1 477.9,350.7C481.7,352.2 485.5,353.7 489.2,355.1C493.0,356.5 496.8,357.9 500.6,359.2C504.4,360.5 508.2,361.7 512.0,362.8C515.8,364.0 519.5,365.1 523.3,366.1C527.1,367.1 530.9,368.1 534.7,369.0C538.5,369.9 542.3,370.8 546.1,371.6C549.9,372.4 553.6,373.1 557.4,373.8C561.2,374.5 565.0,375.1 568.8,375.7C572.6,376.3 576.4,376.8 580.2,377.3C584.0,377.8 587.7,378.2 591.5,378.6C595.3,379.0 599.1,379.3 602.9,379.6C606.7,379.8 610.5,380.1 614.3,380.3C618.0,380.5 621.8,380.6 625.6,380.7C629.4,380.8 633.2,380.9 637.0,380.9C640.8,380.9 644.6,380.9 648.4,380.8C652.1,380.7 655.9,380.6 659.7,380.5C663.5,380.4 667.3,380.2 671.1,380.0C674.9,379.8 678.7,379.5 682.5,379.2C686.2,379.0 690.0,378.6 693.8,378.3C697.6,378.0 701.4,377.6 705.2,377.2C709.0,376.8 712.8,376.3 716.5,375.9C720.3,375.4 724.1,374.9 727.9,374.4C731.7,373.9 735.5,373.3 739.3,372.8C743.1,372.2 746.9,371.6 750.6,371.0C754.4,370.4 758.2,369.8 762.0,369.1C765.8,368.5 769.6,367.8 773.4,367.1C777.2,366.4 781.0,365.7 784.7,365.0C788.5,364.3 792.3,363.5 796.1,362.8C799.9,362.0 803.7,361.3 807.5,360.5C811.3,359.7 815.1,358.9 818.8,358.1C822.6,357.3 826.4,356.5 830.2,355.7C834.0,354.9 837.8,354.0 841.6,353.2C845.4,352.4 849.1,351.5 852.9,350.7C856.7,349.8 860.5,349.0 864.3,348.1C868.1,347.3 871.9,346.4 875.7,345.6C879.5,344.7 883.2,343.9 887.0,343.0C890.8,342.2 894.6,341.3 898.4,340.5C902.2,339.6 906.0,338.8 909.8,338.0C913.6,337.1 917.3,336.3 921.1,335.5C924.9,334.6 928.7,333.8 932.5,333.0C936.3,332.2 940.1,331.4 943.9,330.6C947.6,329.8 951.4,329.1 955.2,328.3C959.0,327.5 962.8,326.8 966.6,326.0C970.4,325.3 974.2,324.6 978.0,323.9C981.7,323.2 985.5,322.5 989.3,321.8C993.1,321.2 996.9,320.5 1000.7,319.9C1004.5,319.3 1008.3,318.7 1012.1,318.1C1015.8,317.5 1019.6,316.9 1023.4,316.4C1027.2,315.9 1031.0,315.4 1034.8,314.9C1038.6,314.4 1042.4,313.9 1046.2,313.5C1049.9,313.1 1053.7,312.7 1057.5,312.3C1061.3,312.0 1065.1,311.6 1068.9,311.3C1072.7,311.0 1076.5,310.7 1080.2,310.5C1084.0,310.3 1087.8,310.1 1091.6,309.9C1095.4,309.7 1099.2,309.6 1103.0,309.5C1106.8,309.4 1110.6,309.4 1114.3,309.3C1118.1,309.3 1121.9,309.4 1125.7,309.4C1129.5,309.5 1133.3,309.6 1137.1,309.8C1140.9,309.9 1144.7,310.1 1148.4,310.4C1152.2,310.6 1156.0,310.9 1159.8,311.2C1163.6,311.6 1167.4,312.0 1171.2,312.4C1175.0,312.8 1178.7,313.3 1182.5,313.9C1186.3,314.4 1190.1,315.0 1193.9,315.7C1197.7,316.3 1201.5,317.0 1205.3,317.8C1209.1,318.5 1212.8,319.3 1216.6,320.2C1220.4,321.1 1224.2,322.0 1228.0,323.0C1231.8,324.0 1235.6,325.0 1239.4,326.1C1243.2,327.2 1246.9,328.4 1250.7,329.6C1254.5,330.9 1258.3,332.2 1262.1,333.5C1265.9,334.9 1269.7,336.3 1273.5,337.8C1277.2,339.3 1281.0,340.9 1284.8,342.5C1288.6,344.1 1292.4,345.8 1296.2,347.6C1300.0,349.4 1303.8,351.2 1307.6,353.2C1311.3,355.1 1315.1,357.1 1318.9,359.1C1322.7,361.2 1326.5,363.3 1330.3,365.6C1334.1,367.8 1337.9,370.1 1341.7,372.5C1345.4,374.8 1349.2,377.3 1353.0,379.8C1356.8,382.4 1360.6,385.0 1364.4,387.7C1368.2,390.4 1372.0,393.2 1375.8,396.0C1379.5,398.9 1383.3,401.8 1387.1,404.9C1390.9,407.9 1394.7,411.0 1398.5,414.3C1402.3,417.5 1406.1,420.8 1409.8,424.2C1413.6,427.6 1417.4,431.1 1421.2,434.6C1425.0,438.2 1428.8,441.9 1432.6,445.6C1436.4,449.4 1440.2,453.3 1443.9,457.2C1447.7,461.2 1451.5,465.2 1455.3,469.4C1459.1,473.5 1462.9,477.8 1466.7,482.1C1470.5,486.5 1474.3,490.9 1478.0,495.5C1481.8,500.0 1485.6,504.7 1489.4,509.5C1493.2,514.2 1497.0,519.1 1500.8,524.1C1504.6,529.0 1508.3,534.1 1512.1,539.3C1515.9,544.5 1519.7,549.8 1523.5,555.2C1527.3,560.6 1531.1,566.1 1534.9,571.7C1538.7,577.3 1542.4,583.1 1546.2,588.9C1550.0,594.8 1555.7,603.8 1557.6,606.8" fill="none" stroke="#00007f" stroke-width="3.5" stroke-linejoin="round"/>
<path d="M376,156h1v-2h2v2h1V198h-1v2h-2v-2h-1ZM437,251h1v-2h2v2h1V286h-1v2h-2v-2h-1ZM466,256h1v-2h2v2h1V291h-1v2h-2v-2h-1ZM486,306h1v-2h2v2h1V342h-1v2h-2v-2h-1ZM502,353h1v-2h2v2h1V389h-1v2h-2v-2h-1ZM516,410h1v-2h2v2h1V445h-1v2h-2v-2h-1ZM528,444h1v-2h2v2h1V480h-1v2h-2v-2h-1ZM539,434h1v-2h2v2h1V468h-1v2h-2v-2h-1ZM549,472h1v-2h2v2h1V489h-1v2h-2v-2h-1ZM559,467h1v-2h2v2h1V493h-1v2h-2v-2h-1ZM568,448h1v-2h2v2h1V482h-1v2h-2v-2h-1ZM577,438h1v-2h2v2h1V472h-1v2h-2v-2h-1ZM587,416h1v-2h2v2h1V447h-1v2h-2v-2h-1ZM596,404h1v-2h2v2h1V437h-1v2h-2v-2h-1ZM605,387h1v-2h2v2h1V414h-1v2h-2v-2h-1ZM615,365h1v-2h2v2h1V398h-1v2h-2v-2h-1ZM625,366h1v-2h2v2h1V398h-1v2h-2v-2h-1ZM635,330h1v-2h2v2h1V363h-1v2h-2v-2h-1ZM646,320h1v-2h2v2h1V351h-1v2h-2v-2h-1ZM658,319h1v-2h2v2h1V351h-1v2h-2v-2h-1ZM670,300h1v-2h2v2h1V333h-1v2h-2v-2h-1ZM684,306h1v-2h2v2h1V338h-1v2h-2v-2h-1ZM698,312h1v-2h2v2h1V342h-1v2h-2v-2h-1ZM715,301h1v-2h2v2h1V334h-1v2h-2v-2h-1ZM732,280h1v-2h2v2h1V312h-1v2h-2v-2h-1ZM753,271h1v-2h2v2h1V302h-1v2h-2v-2h-1ZM774,293h1v-2h2v2h1V323h-1v2h-2v-2h-1ZM797,312h1v-2h2v2h1V340h-1v2h-2v-2h-1ZM823,317h1v-2h2v2h1V349h-1v2h-2v-2h-1ZM852,346h1v-2h2v2h1V379h-1v2h-2v-2h-1ZM880,344h1v-2h2v2h1V376h-1v2h-2v-2h-1ZM908,321h1v-2h2v2h1V353h-1v2h-2v-2h-1ZM934,323h1v-2h2v2h1V354h-1v2h-2v-2h-1ZM960,322h1v-2h2v2h1V353h-1v2h-2v-2h-1ZM984,342h1v-2h2v2h1V373h-1v2h-2v-2h-1ZM1007,357h1v-2h2v2h1V385h-1v2h-2v-2h-1ZM1027,337h1v-2h2v2h1V368h-1v2h-2v-2h-1ZM1047,325h1v-2h2v2h1V355h-1v2h-2v-2h-1ZM1068,303h1v-2h2v2h1V334h-1v2h-2v-2h-1ZM1090,296h1v-2h2v2h1V326h-1v2h-2v-2h-1ZM1114,304h1v-2h2v2h1V334h-1v2h-2v-2h-1ZM1140,313h1v-2h2v2h1V341h-1v2h-2v-2h-1ZM1169,320h1v-2h2v2h1V341h-1v2h-2v-2h-1ZM1203,307h1v-2h2v2h1V335h-1v2h-2v-2h-1ZM1242,302h1v-2h2v2h1V320h-1v2h-2v-2h-1ZM1291,311h1v-2h2v2h1V338h-1v2h-2v-2h-1ZM1367,355h1v-2h2v2h1V378h-1v2h-2v-2h-1Z" fill="#00007f" stroke="none"/>
<circle cx="377.5" cy="192.5" r="10.9" fill="#00007f"/>
<circle cx="438.8" cy="272.0" r="10.9" fill="#00007f"/>
<circle cx="467.8" cy="275.2" r="10.9" fill="#00007f"/>
<circle cx="487.9" cy="330.2" r="10.9" fill="#00007f"/>
<circle cx="504.1" cy="362.9" r="10.9" fill="#00007f"/>
<circle cx="517.8" cy="428.5" r="10.9" fill="#00007f"/>
<circle cx="529.8" cy="458.9" r="10.9" fill="#00007f"/>
<circle cx="541.1" cy="452.1" r="10.9" fill="#00007f"/>
<circle cx="550.6" cy="476.3" r="10.9" fill="#00007f"/>
<circle cx="561.3" cy="471.0" r="10.9" fill="#00007f"/>
<circle cx="570.0" cy="464.2" r="10.9" fill="#00007f"/>
<circle cx="579.2" cy="457.9" r="10.9" fill="#00007f"/>
<circle cx="588.9" cy="430.7" r="10.9" fill="#00007f"/>
<circle cx="598.1" cy="423.9" r="10.9" fill="#00007f"/>
<circle cx="606.9" cy="390.2" r="10.9" fill="#00007f"/>
<circle cx="617.0" cy="386.9" r="10.9" fill="#00007f"/>
<circle cx="627.1" cy="386.6" r="10.9" fill="#00007f"/>
<circle cx="637.0" cy="343.3" r="10.9" fill="#00007f"/>
<circle cx="647.6" cy="339.3" r="10.9" fill="#00007f"/>
<circle cx="659.9" cy="333.0" r="10.9" fill="#00007f"/>
<circle cx="671.9" cy="318.2" r="10.9" fill="#00007f"/>
<circle cx="686.0" cy="323.0" r="10.9" fill="#00007f"/>
<circle cx="700.5" cy="322.1" r="10.9" fill="#00007f"/>
<circle cx="717.0" cy="325.6" r="10.9" fill="#00007f"/>
<circle cx="734.5" cy="290.9" r="10.9" fill="#00007f"/>
<circle cx="755.0" cy="288.7" r="10.9" fill="#00007f"/>
<circle cx="776.1" cy="308.4" r="10.9" fill="#00007f"/>
<circle cx="799.0" cy="315.6" r="10.9" fill="#00007f"/>
<circle cx="825.0" cy="338.0" r="10.9" fill="#00007f"/>
<circle cx="853.7" cy="364.0" r="10.9" fill="#00007f"/>
<circle cx="882.0" cy="355.7" r="10.9" fill="#00007f"/>
<circle cx="909.6" cy="341.4" r="10.9" fill="#00007f"/>
<circle cx="935.7" cy="337.2" r="10.9" fill="#00007f"/>
<circle cx="962.0" cy="340.2" r="10.9" fill="#00007f"/>
<circle cx="986.5" cy="357.7" r="10.9" fill="#00007f"/>
<circle cx="1008.9" cy="363.2" r="10.9" fill="#00007f"/>
<circle cx="1029.4" cy="362.0" r="10.9" fill="#00007f"/>
<circle cx="1049.1" cy="334.1" r="10.9" fill="#00007f"/>
<circle cx="1070.0" cy="322.5" r="10.9" fill="#00007f"/>
<circle cx="1091.5" cy="308.4" r="10.9" fill="#00007f"/>
<circle cx="1115.7" cy="317.4" r="10.9" fill="#00007f"/>
<circle cx="1142.0" cy="327.7" r="10.9" fill="#00007f"/>
<circle cx="1171.3" cy="324.7" r="10.9" fill="#00007f"/>
<circle cx="1205.2" cy="323.5" r="10.9" fill="#00007f"/>
<circle cx="1244.2" cy="315.2" r="10.9" fill="#00007f"/>
<circle cx="1292.9" cy="323.2" r="10.9" fill="#00007f"/>
<circle cx="1368.8" cy="375.1" r="10.9" fill="#00007f"/>
</g>
<line x1="334" x2="334" y1="1137.9" y2="1148.9" stroke="#000" stroke-width="4.2"/>
<line x1="748" x2="748" y1="1137.9" y2="1148.9" stroke="#000" stroke-width="4.2"/>
<line x1="1161" x2="1161" y1="1137.9" y2="1148.9" stroke="#000" stroke-width="4.2"/>
<line x1="1574" x2="1574" y1="1137.9" y2="1148.9" stroke="#000" stroke-width="4.2"/>
<line y1="70" y2="70" x1="126.0" x2="137.0" stroke="#000" stroke-width="4.2"/>
<line y1="335" y2="335" x1="126.0" x2="137.0" stroke="#000" stroke-width="4.2"/>
<line y1="601" y2="601" x1="126.0" x2="137.0" stroke="#000" stroke-width="4.2"/>
<line y1="866" y2="866" x1="126.0" x2="137.0" stroke="#000" stroke-width="4.2"/>
<line y1="1132" y2="1132" x1="126.0" x2="137.0" stroke="#000" stroke-width="4.2"/>
<text class="tk" x="334.4" y="1188.3" text-anchor="middle" dx="0.9 -0.9 0">−10</text>
<text class="tk" x="748.0" y="1188.3" text-anchor="middle">0</text>
<text class="tk" x="1161.0" y="1188.3" text-anchor="middle">10</text>
<text class="tk" x="1574.0" y="1188.3" text-anchor="middle">20</text>
<text class="tk" x="116.5" y="1142.8" text-anchor="end">2</text>
<text class="tk" x="116.5" y="877.4" text-anchor="end">3</text>
<text class="tk" x="116.5" y="612.0" text-anchor="end">4</text>
<text class="tk" x="116.5" y="346.5" text-anchor="end">5</text>
<text class="tk" x="116.5" y="79.7" text-anchor="end">6</text>
<text class="ti" x="857.6" y="1249.8" text-anchor="middle">tdiff</text>
<text class="ti" transform="translate(65.2,578.8) rotate(-90)" text-anchor="middle" dx="0 -1.2 0">Vss</text>
</svg></body></html>
